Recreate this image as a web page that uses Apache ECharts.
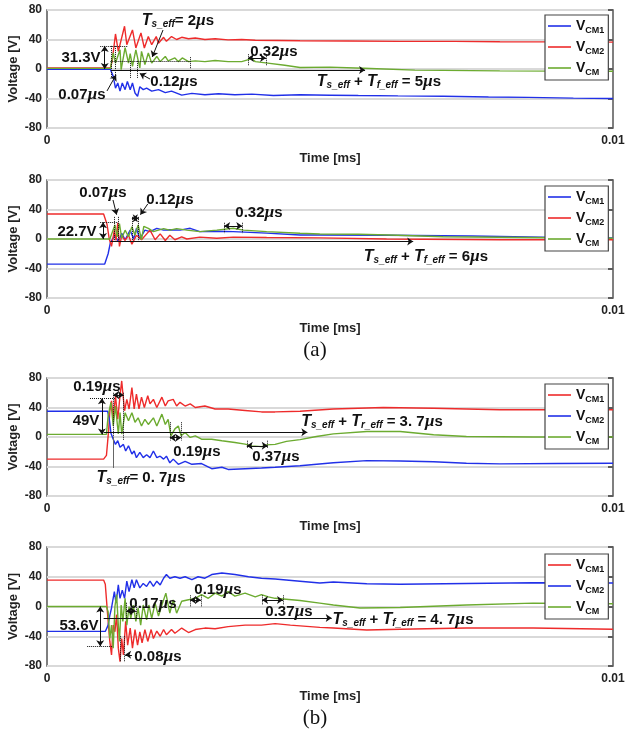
<!DOCTYPE html>
<html><head><meta charset="utf-8">
<script src="https://cdn.jsdelivr.net/npm/echarts@6/dist/echarts.min.js"></script>
<style>html,body{margin:0;padding:0;background:#fff}#c{width:625px;height:735px}</style>
</head><body><div id="c"></div><script>
// Common-mode voltage transients, time in µs (converted to ms on the axis), voltage in V.
const timeTickLabels = ['0', '0.01'];
const voltTicks = [-80, -40, 0, 40, 80];

// (a) upper panel
const a1Vcm1 = [[0,-0.5],[1.12,-0.5],[1.17,-10],[1.21,-26],[1.25,-19],[1.29,-30],[1.33,-19],[1.38,-28],[1.42,-17],[1.47,-28],[1.51,-19],[1.555,-32.5],[1.6,-37],[1.64,-24],[1.7,-28],[1.76,-26],[1.85,-30],[1.97,-28],[2.09,-32],[2.2,-30],[2.38,-35.5],[2.56,-33],[2.79,-35],[3.03,-33.5],[3.32,-35],[3.62,-34],[4.0,-36],[4.47,-35],[5.0,-35.5],[5.5,-36],[6.2,-36.5],[7.0,-37],[7.8,-38],[8.5,-38.5],[9.3,-39.5],[10,-40]];
const a1Vcm2 = [[0,1.5],[1.12,1.5],[1.15,10],[1.21,47.5],[1.26,24],[1.37,58],[1.41,33],[1.51,53],[1.57,28.5],[1.66,49],[1.72,28.5],[1.79,44],[1.85,33],[1.93,44],[1.97,35],[2.06,43],[2.11,37.5],[2.2,44],[2.29,40],[2.38,43],[2.5,41],[2.62,42],[2.79,40],[2.97,41],[3.2,39.5],[3.44,40],[3.68,39],[4.47,38.4],[5.3,38],[6.24,37.5],[7.2,37.5],[8.0,37],[9.0,36.8],[10,36.5]];
const a1Vcm = [[0,0.8],[1.12,0.8],[1.17,21.7],[1.21,8],[1.29,26],[1.31,-1],[1.38,29],[1.44,8],[1.47,21],[1.51,3.6],[1.57,26],[1.64,1.4],[1.67,24],[1.73,6],[1.79,21.7],[1.85,8],[1.94,17],[2.0,10],[2.09,17],[2.14,11],[2.26,15],[2.32,10],[2.39,15],[2.5,10],[2.62,11],[2.79,10],[2.97,11.5],[3.2,10],[3.44,10],[3.62,14],[3.68,10],[3.9,8],[4.2,5],[4.47,2],[5.0,2.5],[5.6,1],[6.5,-1.5],[8,-2.5],[10,-3]];

// (a) lower panel
const a2Vcm1 = [[0,-34],[1.02,-34],[1.08,-20],[1.12,-5],[1.2,5],[1.26,-3.6],[1.32,7.7],[1.38,-1],[1.47,12],[1.53,0],[1.58,14.5],[1.64,0],[1.73,12],[1.82,10],[1.94,14.5],[2.06,12],[2.17,12.5],[2.35,12],[2.53,14.5],[2.7,10],[3.0,10.5],[3.29,10],[3.88,8],[4.47,5.4],[4.82,5.4],[6,5],[7.5,4],[9,2],[10,1.5]];
const a2Vcm2 = [[0,34],[1.0,34],[1.06,20],[1.1,0],[1.14,-10],[1.19,12],[1.22,-2],[1.25,22],[1.28,-10],[1.32,4.5],[1.38,-2],[1.44,5],[1.5,-7],[1.58,5],[1.67,-1],[1.82,12],[1.91,-1],[2.0,7],[2.09,-2],[2.17,5],[2.26,-1],[2.38,3],[2.47,0],[2.7,2.5],[3.0,1],[3.29,2.5],[3.88,2],[4.82,1.5],[6,0],[8,-1],[10,-1]];
const a2Vcm = [[0,0],[1.11,0],[1.2,19],[1.24,3],[1.28,21],[1.32,1],[1.38,12],[1.44,3],[1.5,16.7],[1.555,5],[1.61,19],[1.67,-1],[1.71,17],[1.79,14.5],[1.88,10],[1.97,12],[2.06,14],[2.17,12],[2.29,14],[2.47,12],[2.7,10],[3.0,12],[3.29,14.5],[3.47,12],[3.88,10],[4.47,7.7],[4.82,6.8],[5.5,6.5],[6.2,5],[7,3],[8.5,2],[10,1]];

// (b) upper panel
const b1Vcm1 = [[0,-30],[1.0,-30],[1.05,-25],[1.09,10],[1.11,35],[1.14,49],[1.17,24],[1.21,56],[1.25,24],[1.29,56],[1.32,76],[1.37,35.6],[1.41,51],[1.45,38],[1.5,67],[1.54,38],[1.58,58],[1.625,38],[1.67,54],[1.72,40],[1.78,56],[1.82,45],[1.88,51],[1.94,40],[2.03,54],[2.09,42],[2.14,49],[2.23,51],[2.29,42],[2.35,47],[2.44,42],[2.53,45],[2.62,40],[2.79,42],[2.97,38],[3.2,38],[3.5,36],[3.79,34],[4.03,34],[4.47,35],[5.06,38],[5.94,40],[6.83,39],[8.0,37],[9,37],[10,37]];
const b1Vcm2 = [[0,35],[1.07,35],[1.1,25],[1.13,5],[1.17,-3],[1.21,-10],[1.25,-5],[1.29,-14],[1.35,-10],[1.39,-19],[1.44,-12],[1.5,-23],[1.54,-19],[1.58,-28],[1.64,-21],[1.7,-28],[1.76,-24],[1.82,-28],[1.88,-19],[1.94,-28],[2.0,-26],[2.06,-30],[2.11,-26],[2.17,-35],[2.23,-30],[2.32,-37],[2.44,-33],[2.56,-37],[2.73,-36],[2.91,-43],[3.09,-41],[3.2,-44],[3.5,-43],[3.79,-42],[4.03,-41],[4.47,-39],[5.06,-35],[5.65,-32],[6.24,-32.5],[6.83,-33.5],[7.41,-35.6],[8.0,-36.5],[9,-36],[10,-35.6]];
const b1Vcm = [[0,3.5],[1.05,3.5],[1.08,29],[1.13,47],[1.17,15],[1.21,42],[1.26,4],[1.29,33],[1.32,4],[1.38,33],[1.44,22],[1.5,33],[1.555,20],[1.61,26],[1.67,15],[1.73,24],[1.79,17],[1.88,26],[1.94,15],[2.03,31],[2.09,17],[2.14,24],[2.19,1.6],[2.26,11],[2.32,15],[2.37,1.6],[2.44,6],[2.53,-0.6],[2.62,1.6],[2.73,-3],[2.91,-3],[3.09,-5],[3.32,-7.4],[3.5,-9.7],[3.62,-12],[3.79,-13],[3.88,-10.7],[4.03,-10],[4.23,-6],[4.47,-3.5],[4.76,0.7],[5.06,4.3],[5.65,7.5],[6.24,7.5],[6.83,3],[7.41,0.7],[8.59,0],[10,0]];

// (b) lower panel
const b2Vcm1 = [[0,35.5],[1.0,35.5],[1.03,30],[1.07,-10],[1.11,-47],[1.14,-65],[1.17,-25],[1.2,-34],[1.23,-11],[1.26,-56],[1.29,-74],[1.32,-43],[1.35,-65],[1.39,-20],[1.425,-52],[1.47,-29],[1.51,-56],[1.555,-31],[1.6,-52],[1.64,-34],[1.68,-49],[1.73,-31],[1.78,-47],[1.84,-31],[1.88,-43],[1.94,-33],[2.0,-40],[2.06,-31],[2.11,-38],[2.2,-31],[2.26,-36],[2.38,-29],[2.5,-35],[2.62,-31],[2.79,-29],[2.97,-30],[3.2,-27],[3.5,-25],[3.79,-25],[4.03,-23],[4.3,-25],[4.82,-28],[5.06,-29],[5.65,-31.5],[6.24,-30.5],[7.41,-29],[8.59,-29],[10,-30.5]];
const b2Vcm2 = [[0,-33.5],[1.03,-33.5],[1.08,-25],[1.11,-12],[1.14,-2],[1.19,20],[1.22,4.5],[1.26,29],[1.29,11],[1.33,22],[1.37,11],[1.41,34],[1.45,20],[1.5,36],[1.54,25],[1.58,36],[1.64,25],[1.7,31],[1.76,27],[1.82,34],[1.88,27],[1.94,34],[2.0,29],[2.06,38],[2.11,43],[2.17,38],[2.26,40],[2.35,38],[2.44,40],[2.56,36],[2.67,40],[2.79,38],[2.91,43],[3.09,45],[3.32,43],[3.56,40],[3.79,38],[4.03,37],[4.47,34],[4.82,31.5],[5.06,33],[5.65,30.5],[6.24,30],[7.41,31],[8.59,32],[10,31.5]];
const b2Vcm = [[0,0],[1.05,0],[1.08,-7],[1.11,-43],[1.14,-25],[1.17,-56],[1.2,0],[1.23,16],[1.26,-25],[1.28,-47],[1.31,2],[1.34,-20],[1.38,11],[1.41,-25],[1.45,0],[1.48,-16],[1.525,2],[1.57,-20],[1.61,-2],[1.655,-25],[1.7,2],[1.76,-18],[1.8,2],[1.85,-16],[1.91,4.5],[1.97,-13],[2.03,2],[2.1,18],[2.17,-9],[2.23,9],[2.29,-9],[2.38,7],[2.5,9],[2.62,11],[2.73,16],[2.85,11],[2.97,18],[3.09,14],[3.2,20],[3.32,14],[3.5,18],[3.68,13],[3.79,16],[3.91,13],[4.03,11],[4.47,8],[4.82,4.5],[5.06,2],[5.53,-2],[6.24,-1.3],[7.41,2],[8.59,4.5],[10,3.6]];

// Measurement guides: [kind, t1 (µs), v1 (V), t2, v2]
// kind: dot = dotted guide, arr = arrow at end, dbl = arrows both ends, line = plain solid
const a1Guides = [
  ['dbl',1.02,0,1.02,31.3],['dot',0.94,31.3,1.43,31.3],['dot',1.13,31.3,1.13,-12],['dot',1.20,31.3,1.20,-12],
  ['arr',1.06,-29.8,1.22,-8],['dot',1.12,11,2.53,11],['dot',1.47,11,1.47,-12],['dot',1.59,11,1.59,-12],
  ['arr',1.82,-13.6,1.64,-6],['dot',2.53,16,2.53,0],['arr',2.05,52.9,1.86,16.3],
  ['dot',3.55,20,3.55,5],['dot',3.87,20,3.87,5],['dbl',3.55,15,3.87,15],['arr',1.13,-1.5,5.62,-1.5]
];
const a2Guides = [
  ['dbl',0.99,0,0.99,22.7],['dot',0.94,22.7,1.26,22.7],['dot',1.18,30,1.18,-4],['dot',1.25,30,1.25,-4],
  ['arr',1.166,52.9,1.23,33],['dot',1.50,30,1.50,-3],['dot',1.62,30,1.62,-3],['dbl',1.50,28,1.62,28],
  ['arr',1.78,47.5,1.65,33],['dot',3.13,22,3.13,8],['dot',3.45,22,3.45,8],['dbl',3.13,17.6,3.45,17.6],
  ['arr',1.12,-3.5,6.47,-3.5]
];
const b1Guides = [
  ['dbl',1.166,57,1.356,57],['dot',1.166,60,1.166,-5],['dot',1.356,60,1.356,-5],['dot',0.76,52.5,1.20,52.5],
  ['dbl',0.97,3.5,0.97,52.5],['line',1.166,0,1.166,-42],['arr',1.0,6.5,4.6,6.5],
  ['dot',2.17,20,2.17,-5],['dot',2.37,20,2.37,-5],['dbl',2.17,-1,2.37,-1],
  ['dot',3.53,-5,3.53,-15],['dot',3.90,-5,3.90,-15],['dbl',3.53,-12,3.90,-12]
];
const b2Guides = [
  ['dbl',0.94,0,0.94,-53.6],['dot',0.71,-53.6,1.15,-53.6],['dot',1.40,5,1.40,-15],['dot',1.57,5,1.57,-15],
  ['dbl',1.40,-6,1.57,-6],['dot',2.53,15,2.53,0],['dot',2.72,15,2.72,0],['dbl',2.53,8.7,2.72,8.7],
  ['dot',3.80,15,3.80,2],['dot',4.17,15,4.17,2],['dbl',3.80,8.7,4.17,8.7],
  ['dot',1.29,-40,1.29,-75],['dot',1.37,-40,1.37,-75],['arr',1.50,-65,1.38,-65],['arr',1.0,-15.5,5.03,-15.5]
];

const SANS = '"Liberation Sans", Arial, Helvetica, sans-serif';
const SERIF = '"Liberation Serif", "Times New Roman", serif';
const BLUE = '#2130e8', RED = '#ee2b2b', GREEN = '#6cab30';

const panels = [
  { top: 10,  h: 118, legendTop: 15,  lines: [['VCM1', BLUE, a1Vcm1], ['VCM2', RED, a1Vcm2], ['VCM', GREEN, a1Vcm]], guides: a1Guides },
  { top: 180, h: 118, legendTop: 186, lines: [['VCM1', BLUE, a2Vcm1], ['VCM2', RED, a2Vcm2], ['VCM', GREEN, a2Vcm]], guides: a2Guides },
  { top: 378, h: 118, legendTop: 384, lines: [['VCM1', RED, b1Vcm1], ['VCM2', BLUE, b1Vcm2], ['VCM', GREEN, b1Vcm]], guides: b1Guides },
  { top: 547, h: 119, legendTop: 554, lines: [['VCM1', RED, b2Vcm1], ['VCM2', BLUE, b2Vcm2], ['VCM', GREEN, b2Vcm]], guides: b2Guides }
];

// Annotation texts (pixel anchors, centered)
const mu = (num) => '{n|' + num + '}{m|µ}{n|s}';
const notes = [
  [178, 21, '{t|T}{sub|s_eff}{n|= 2}{m|µ}{n|s}'],
  [81, 58, '{n|31.3V}'], [82, 95, mu('0.07')], [174, 82, mu('0.12')], [274, 52, mu('0.32')],
  [379, 82, '{t|T}{sub|s_eff}{n| + }{t|T}{sub|f_eff}{n| = 5}{m|µ}{n|s}'],
  [103, 193, mu('0.07')], [77, 232, '{n|22.7V}'], [170, 200, mu('0.12')], [259, 213, mu('0.32')],
  [426, 257, '{t|T}{sub|s_eff}{n| + }{t|T}{sub|f_eff}{n| = 6}{m|µ}{n|s}'],
  [97, 387, mu('0.19')], [86, 421, '{n|49V}'], [197, 452, mu('0.19')], [276, 457, mu('0.37')],
  [141, 478, '{t|T}{sub|s_eff}{n|= 0. 7}{m|µ}{n|s}'],
  [372, 422, '{t|T}{sub|s_eff}{n| + }{t|T}{sub|r_eff}{n| = 3. 7}{m|µ}{n|s}'],
  [153, 604, mu('0.17')], [79, 626, '{n|53.6V}'], [218, 590, mu('0.19')], [289, 612, mu('0.37')],
  [158, 657, mu('0.08')],
  [403, 620, '{t|T}{sub|s_eff}{n| + }{t|T}{sub|f_eff}{n| = 4. 7}{m|µ}{n|s}']
];
const captions = [[315, 350, '(a)'], [315, 718, '(b)']];

const noteRich = {
  n:   { fontFamily: SANS, fontWeight: 'bold', fontSize: 15, fill: '#111', lineHeight: 16 },
  m:   { fontFamily: SERIF, fontStyle: 'italic', fontWeight: 'bold', fontSize: 17, fill: '#111', lineHeight: 16 },
  t:   { fontFamily: SANS, fontStyle: 'italic', fontWeight: 'bold', fontSize: 16, fill: '#111', lineHeight: 16 },
  sub: { fontFamily: SANS, fontStyle: 'italic', fontWeight: 'bold', fontSize: 10, fill: '#111', lineHeight: 11, verticalAlign: 'bottom', padding: [11, 0, 0, 0] }
};

function guideLines(list) {
  return list.map(([kind, t1, v1, t2, v2]) => [
    { coord: [t1 / 1000, v1], symbol: kind === 'dbl' ? 'arrow' : 'none',
      lineStyle: { type: kind === 'dot' ? 'dotted' : 'solid', color: kind === 'line' ? '#666' : '#111', width: 1 } },
    { coord: [t2 / 1000, v2], symbol: (kind === 'arr' || kind === 'dbl') ? 'arrow' : 'none' }
  ]);
}

const axisFont = { fontFamily: SANS, fontWeight: 'bold', fontSize: 12, color: '#222' };
const grid = [], xAxis = [], yAxis = [], series = [], legend = [];

panels.forEach((p, i) => {
  grid.push({ left: 47, width: 566, top: p.top, height: p.h, containLabel: false, outerBoundsMode: 'none',
    show: true, borderColor: '#555', borderWidth: 1.5, backgroundColor: 'transparent' });
  xAxis.push({
    gridIndex: i, type: 'value', min: 0, max: 0.01, interval: 0.01,
    axisLine: { show: false }, axisTick: { show: false }, splitLine: { show: false },
    axisLabel: Object.assign({ margin: 7, formatter: v => (v === 0 ? timeTickLabels[0] : timeTickLabels[1]) }, axisFont),
    name: 'Time [ms]', nameLocation: 'middle', nameGap: 24,
    nameTextStyle: { fontFamily: SANS, fontWeight: 'bold', fontSize: 13, color: '#222' }
  });
  yAxis.push({
    gridIndex: i, type: 'value', min: voltTicks[0], max: voltTicks[voltTicks.length - 1], interval: 40,
    axisLine: { show: false }, axisTick: { show: false },
    axisLabel: Object.assign({ margin: 5 }, axisFont),
    splitLine: { lineStyle: { color: '#d9d9d9', width: 2 } },
    name: 'Voltage [V]', nameLocation: 'middle', nameGap: 27, nameRotate: 90, nameMoveOverlap: false,
    nameTextStyle: { fontFamily: SANS, fontWeight: 'bold', fontSize: 13, color: '#222' }
  });
  yAxis.push({
    gridIndex: i, type: 'value', position: 'right', min: -80, max: 80, interval: 40,
    axisLine: { show: false }, axisLabel: { show: false }, splitLine: { show: false },
    axisTick: { show: true, inside: true, length: 5, lineStyle: { color: '#333', width: 1.5 } }
  });
  const names = [];
  p.lines.forEach(([label, color, data], j) => {
    const name = 'p' + i + '_' + label;
    names.push(name);
    const s = {
      type: 'line', name, xAxisIndex: i, yAxisIndex: i * 2,
      data: data.map(([t, v]) => [t / 1000, v]),
      symbol: 'none', showSymbol: false, color, silent: true, animation: false,
      lineStyle: { width: 1.4, color }, itemStyle: { color }, z: 3
    };
    if (j === p.lines.length - 1) {
      s.markLine = {
        silent: true, animation: false, symbolSize: 6, label: { show: false },
        emphasis: { disabled: true }, data: guideLines(p.guides)
      };
    }
    series.push(s);
  });
  legend.push({
    data: names, orient: 'vertical', left: 545, top: p.legendTop,
    backgroundColor: '#fff', borderColor: '#444', borderWidth: 1.2, borderRadius: 0,
    padding: [3, 4, 3, 3], itemGap: 4, itemWidth: 23, itemHeight: 1.6, icon: 'rect',
    selectedMode: false,
    formatter: n => '{v|V}{s|' + n.split('_')[1].slice(1) + '}',
    textStyle: {
      rich: {
        v: { fontFamily: SANS, fontWeight: 'bold', fontSize: 14, color: '#111', lineHeight: 18 },
        s: { fontFamily: SANS, fontWeight: 'bold', fontSize: 9, color: '#111', lineHeight: 10, verticalAlign: 'bottom', padding: [8, 0, 0, 0] }
      }
    }
  });
});

const graphic = notes.map(([x, y, text]) => ({
  type: 'text', x, y, silent: true, z: 10,
  style: { text, rich: noteRich, align: 'center', verticalAlign: 'middle', fill: '#111' }
})).concat(captions.map(([x, y, text]) => ({
  type: 'text', x, y, silent: true,
  style: { text, font: '21px ' + SERIF, fill: '#111', align: 'center', verticalAlign: 'middle' }
})));

const chart = echarts.init(document.getElementById('c'), null, { renderer: 'canvas' });
chart.setOption({ animation: false, backgroundColor: '#fff', grid, xAxis, yAxis, series, legend, graphic });
</script></body></html>
